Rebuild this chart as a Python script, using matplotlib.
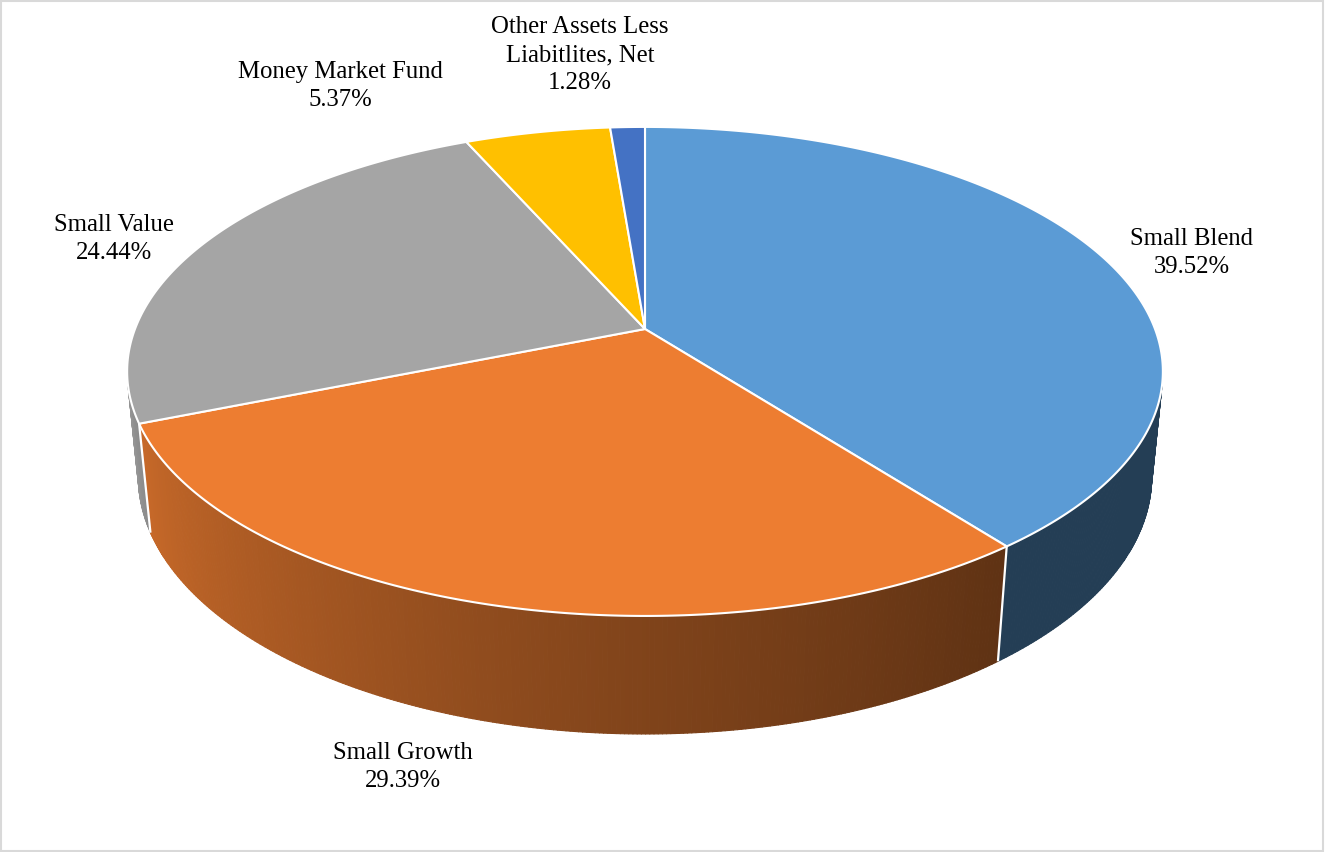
import numpy as np
import matplotlib
matplotlib.use("Agg")
import matplotlib.pyplot as plt
from matplotlib.patches import Polygon, Rectangle
from matplotlib.collections import PolyCollection
from matplotlib.colors import to_rgb

# ---- data ----
categories = ["Small Blend", "Small Growth", "Small Value",
              "Money Market Fund", "Other Assets Less\nLiabitlites, Net"]
values = [39.52, 29.39, 24.44, 5.37, 1.28]
colors = ["#5B9BD5", "#ED7D31", "#A5A5A5", "#FFC000", "#4472C4"]

# ---- layout (label centres in pixel coords) ----
label_pos = [(1192, 253), (403, 767), (114, 239), (340, 86), (580, 55)]

W, H = 1325, 853
fig = plt.figure(figsize=(W / 100, H / 100), dpi=100)
ax = fig.add_axes([0, 0, 1, 1])
ax.set_xlim(0, W)
ax.set_ylim(H, 0)
ax.axis("off")

# perspective camera parameters
cx, cy = 645.0, 330.0
D = 5.1
F = 510.0 * D
se, ce = 0.465, 0.885
thick = 0.2354


def proj(X, Y, Z):
    depth = D + Y * ce - Z * se
    sx = cx + F * X / depth
    sy = cy - F * (Y * se + Z * ce) / depth
    return sx, sy


def pt(psi_deg, z, r=1.0):
    p = np.radians(psi_deg)
    return proj(r * np.sin(p), r * np.cos(p), z)


# visible wall range (silhouette from camera position)
ycam = -D * ce
ysil = 1.0 / ycam
vis_lo = np.degrees(np.arccos(ysil))
vis_hi = 360 - vis_lo

# shading factor along angle
shade_ang = [vis_lo, 142.0, 180.0, 248.0, vis_hi]
shade_fac = [0.40, 0.40, 0.54, 0.84, 0.90]

total = sum(values)
bounds = np.concatenate([[0], np.cumsum(values) / total * 360.0])

# walls
for i, col in enumerate(colors):
    a0, a1 = bounds[i], bounds[i + 1]
    lo, hi = max(a0, vis_lo), min(a1, vis_hi)
    if hi <= lo:
        continue
    n = max(2, int((hi - lo) / 0.4))
    angs = np.linspace(lo, hi, n + 1)
    base = np.array(to_rgb(col))
    quads, fcs = [], []
    for k in range(n):
        b0, b1 = angs[k], angs[k + 1]
        quad = [pt(b0, 0), pt(b1, 0), pt(b1, -thick), pt(b0, -thick)]
        quads.append(quad)
        f = np.interp(0.5 * (b0 + b1), shade_ang, shade_fac)
        fcs.append(np.clip(base * f, 0, 1))
    pc = PolyCollection(quads, facecolors=fcs, edgecolors=fcs, linewidths=0.8, zorder=1)
    ax.add_collection(pc)

# white lines on wall at slice boundaries
for b in bounds[1:-1]:
    if vis_lo < b < vis_hi:
        p0 = pt(b, 0)
        p1 = pt(b, -thick)
        ax.plot([p0[0], p1[0]], [p0[1], p1[1]], color="white", lw=1.6, zorder=2,
                solid_capstyle="butt")

# top faces
for i, col in enumerate(colors):
    a0, a1 = bounds[i], bounds[i + 1]
    n = max(4, int((a1 - a0) / 0.5))
    angs = np.linspace(a0, a1, n + 1)
    verts = [proj(0, 0, 0)] + [pt(a, 0) for a in angs]
    poly = Polygon(verts, closed=True, facecolor=col, edgecolor="white",
                   linewidth=1.5, joinstyle="round", zorder=3)
    ax.add_patch(poly)

# labels
for (lx, ly), name, v in zip(label_pos, categories, values):
    ax.text(lx, ly, f"{name}\n{v:.2f}%", ha="center", va="center",
            multialignment="center", fontsize=17.8, family="Liberation Serif",
            color="black", linespacing=1.38, zorder=5)

# outer border
fig.patches.append(Rectangle((1 / W, 1 / H), 1 - 3 / W, 1 - 3 / H,
                             transform=fig.transFigure, fill=False,
                             edgecolor="#D9D9D9", linewidth=1.5))

fig.savefig("out.png", dpi=100, facecolor="white")
